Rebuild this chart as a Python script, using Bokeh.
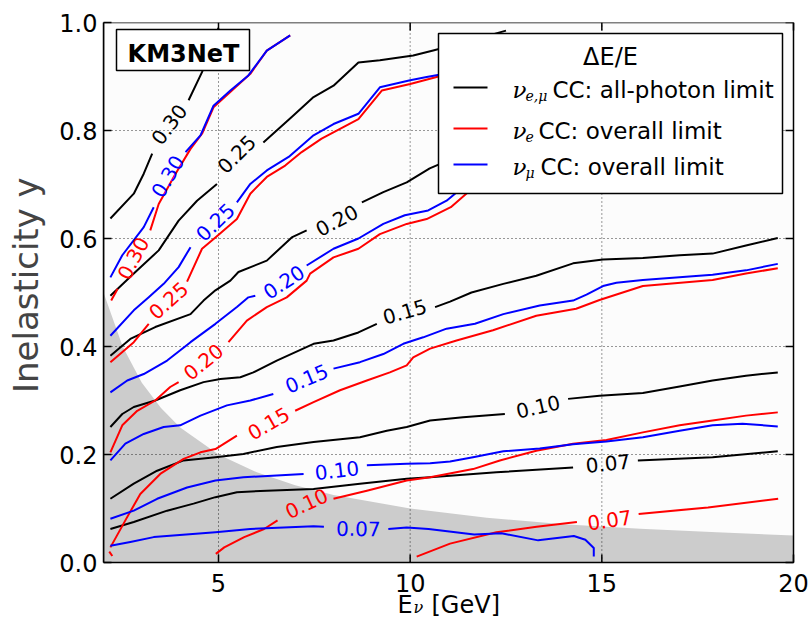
from bokeh.plotting import figure
from bokeh.models import Range1d, FixedTicker, PrintfTickFormatter
from bokeh.embed import file_html
from bokeh.resources import INLINE
from bokeh.core.properties import value
import math

# ---------------- axes ----------------
x_lim = [2.0, 20.0]
y_lim = [0.0, 1.0]
x_ticks = [5, 10, 15, 20]
x_tick_labels = ["5", "10", "15", "20"]
y_ticks = [0.0, 0.2, 0.4, 0.6, 0.8, 1.0]
y_tick_labels = ["0.0", "0.2", "0.4", "0.6", "0.8", "1.0"]
grid_x = [5, 10, 15]
grid_y = [0.2, 0.4, 0.6, 0.8]

# ---------------- shaded (y < y_min(E)) region boundary ----------------
bound_E = [2.0, 2.5, 3.0, 3.5, 4.0, 5.0, 6.0, 7.0, 8.0, 10.0, 12.0, 14.0, 16.0, 18.0, 20.0]
bound_y = [0.50, 0.40, 0.333, 0.286, 0.25, 0.20, 0.167, 0.143, 0.125, 0.10, 0.083, 0.071, 0.0625, 0.056, 0.05]

# ---------------- black contours: nu_{e,mu} CC all-photon limit ----------------
K30a_x = [2.18, 2.79, 3.05, 3.27]
K30a_y = [0.637, 0.683, 0.720, 0.757]
K30b_x = [4.22, 4.57, 4.80, 5.00]
K30b_y = [0.856, 0.908, 0.950, 0.990]
K25a_x = [2.18, 2.79, 3.44, 3.96, 4.44, 4.96]
K25a_y = [0.494, 0.535, 0.578, 0.633, 0.670, 0.701]
K25b_x = [6.17, 6.91, 7.48, 8.00, 8.65, 9.21, 10.08, 10.60, 11.50, 12.50]
K25b_y = [0.778, 0.825, 0.862, 0.883, 0.926, 0.930, 0.939, 0.948, 0.965, 0.985]
K20a_x = [2.18, 2.70, 3.35, 4.27, 4.61, 4.92, 5.31, 5.52, 6.26, 6.91, 7.30]
K20a_y = [0.383, 0.414, 0.436, 0.460, 0.485, 0.504, 0.522, 0.538, 0.559, 0.602, 0.615]
K20b_x = [8.74, 9.30, 9.91, 10.51, 11.50, 13.00, 15.00, 17.00, 19.30]
K20b_y = [0.667, 0.686, 0.704, 0.730, 0.760, 0.800, 0.840, 0.880, 0.920]
K15a_x = [2.18, 2.49, 2.79, 3.35, 4.00, 4.61, 5.05, 5.57, 5.91, 6.52, 7.48, 8.00, 8.65, 9.13]
K15a_y = [0.251, 0.275, 0.288, 0.300, 0.319, 0.334, 0.340, 0.343, 0.352, 0.374, 0.405, 0.411, 0.426, 0.442]
K15b_x = [10.65, 11.04, 11.60, 12.43, 13.29, 14.25, 15.03, 16.07, 17.03, 17.89, 18.76, 19.59]
K15b_y = [0.473, 0.483, 0.500, 0.516, 0.531, 0.554, 0.561, 0.564, 0.569, 0.572, 0.587, 0.601]
K10a_x = [2.18, 2.79, 3.40, 4.09, 4.92, 5.65, 6.52, 7.48, 8.69, 9.39, 9.91, 10.52, 11.38, 12.47]
K10a_y = [0.118, 0.146, 0.170, 0.189, 0.195, 0.201, 0.214, 0.223, 0.232, 0.244, 0.251, 0.263, 0.269, 0.275]
K10b_x = [14.12, 14.94, 16.07, 17.03, 17.89, 18.76, 19.59]
K10b_y = [0.303, 0.309, 0.314, 0.326, 0.337, 0.346, 0.352]
K07a_x = [2.18, 2.79, 3.66, 4.35, 4.92, 5.48, 6.26, 7.48, 8.69, 9.91, 10.52, 12.25, 14.25]
K07a_y = [0.062, 0.075, 0.096, 0.109, 0.121, 0.130, 0.133, 0.136, 0.146, 0.155, 0.158, 0.167, 0.176]
K07b_x = [15.94, 17.89, 19.59]
K07b_y = [0.189, 0.195, 0.206]

# ---------------- blue contours: nu_mu CC overall limit ----------------
B30a_x = [2.18, 2.49, 3.05, 3.31]
B30a_y = [0.528, 0.569, 0.621, 0.658]
B30b_x = [4.14, 4.53, 4.87, 5.31, 5.78, 6.26, 6.87]
B30b_y = [0.760, 0.791, 0.846, 0.874, 0.902, 0.948, 0.976]
B25a_x = [2.18, 2.79, 3.18, 3.57, 3.96, 4.27]
B25a_y = [0.420, 0.467, 0.491, 0.516, 0.547, 0.584]
B25b_x = [5.48, 5.83, 6.26, 6.83, 7.48, 8.00, 8.65, 9.21, 10.00, 10.43, 10.90, 11.50]
B25b_y = [0.667, 0.701, 0.726, 0.751, 0.791, 0.812, 0.831, 0.880, 0.893, 0.899, 0.905, 0.920]
B20a_x = [2.18, 2.62, 3.05, 3.66, 4.27, 4.92, 5.48, 5.78, 5.96]
B20a_y = [0.315, 0.337, 0.349, 0.374, 0.408, 0.442, 0.473, 0.491, 0.494]
B20b_x = [7.30, 8.00, 8.65, 9.30, 9.86, 10.47, 10.95, 11.17, 12.00, 14.00, 16.00, 18.00, 19.30]
B20b_y = [0.550, 0.581, 0.600, 0.627, 0.643, 0.652, 0.670, 0.683, 0.720, 0.780, 0.830, 0.870, 0.900]
B15a_x = [2.18, 2.57, 3.05, 3.57, 4.00, 4.53, 5.22, 5.83, 6.43]
B15a_y = [0.189, 0.220, 0.238, 0.251, 0.254, 0.272, 0.291, 0.300, 0.312]
B15b_x = [8.00, 8.69, 9.30, 9.82, 10.34, 10.95, 11.69, 12.43, 13.38, 14.25, 14.60, 15.03, 15.38, 16.07, 17.89, 18.76, 19.59]
B15b_y = [0.359, 0.371, 0.386, 0.405, 0.417, 0.433, 0.442, 0.460, 0.476, 0.485, 0.496, 0.512, 0.518, 0.523, 0.533, 0.541, 0.553]
B10a_x = [2.18, 2.79, 3.40, 4.18, 4.92, 5.65, 6.52, 7.22]
B10a_y = [0.081, 0.096, 0.118, 0.139, 0.152, 0.158, 0.161, 0.164]
B10b_x = [8.87, 9.91, 10.52, 11.04, 11.64, 12.43, 13.38, 14.25, 15.12, 16.07, 17.03, 17.89, 18.67, 19.59]
B10b_y = [0.180, 0.183, 0.184, 0.187, 0.195, 0.206, 0.211, 0.219, 0.224, 0.232, 0.244, 0.254, 0.257, 0.252]
B07a_x = [2.18, 2.70, 3.31, 4.92, 5.83, 6.70, 7.48, 7.75]
B07a_y = [0.031, 0.038, 0.047, 0.056, 0.062, 0.065, 0.067, 0.066]
B07b_x = [9.43, 9.91, 10.48, 11.67, 12.38, 13.34, 14.27, 14.57, 14.79, 14.79]
B07b_y = [0.062, 0.065, 0.062, 0.052, 0.054, 0.041, 0.049, 0.042, 0.027, 0.011]

# ---------------- red contours: nu_e CC overall limit ----------------
R30a_x = [2.20, 2.37]
R30a_y = [0.485, 0.507]
R30b_x = [3.22, 3.44, 3.88, 4.27, 4.57, 4.87, 5.35, 5.83, 6.26, 6.87]
R30b_y = [0.615, 0.664, 0.720, 0.766, 0.794, 0.843, 0.874, 0.905, 0.948, 0.976]
R25a_x = [2.18, 2.79, 3.18]
R25a_y = [0.371, 0.408, 0.442]
R25b_x = [4.18, 4.57, 4.92, 5.48, 5.83, 6.26, 6.74, 7.17, 7.69, 8.65, 9.26, 10.00, 10.69, 11.50]
R25b_y = [0.520, 0.581, 0.602, 0.636, 0.683, 0.714, 0.735, 0.760, 0.785, 0.821, 0.874, 0.886, 0.899, 0.915]
R20a_x = [2.18, 2.49, 2.88, 3.35, 3.74, 3.96]
R20a_y = [0.204, 0.254, 0.281, 0.300, 0.325, 0.334]
R20b_x = [5.26, 5.74, 6.26, 6.78, 7.30, 7.39, 8.00, 8.65, 9.21, 9.91, 10.43, 11.06, 11.56, 12.50, 14.00, 16.00, 18.00, 19.30]
R20b_y = [0.408, 0.448, 0.473, 0.491, 0.522, 0.535, 0.565, 0.581, 0.608, 0.627, 0.636, 0.658, 0.689, 0.730, 0.780, 0.820, 0.860, 0.890]
R15a_x = [2.18, 2.57, 2.96, 3.48, 4.09, 4.53, 4.92, 5.48]
R15a_y = [0.028, 0.078, 0.127, 0.164, 0.192, 0.204, 0.210, 0.235]
R15b_x = [7.00, 7.48, 8.17, 8.87, 9.47, 9.91, 10.08, 10.52, 11.21, 12.16, 13.29, 14.33, 14.94, 16.07, 17.89, 18.76, 19.59]
R15b_y = [0.281, 0.297, 0.319, 0.337, 0.352, 0.365, 0.380, 0.396, 0.411, 0.430, 0.457, 0.470, 0.486, 0.512, 0.523, 0.535, 0.545]
R10a_x = [4.93, 5.15, 5.67, 6.19, 6.54]
R10a_y = [0.016, 0.028, 0.047, 0.062, 0.078]
R10b_x = [8.00, 8.87, 9.91, 10.52, 11.64, 12.34, 13.29, 14.25, 15.12, 16.07, 17.03, 17.89, 18.76, 19.59]
R10b_y = [0.118, 0.133, 0.152, 0.158, 0.173, 0.189, 0.207, 0.220, 0.227, 0.241, 0.254, 0.263, 0.272, 0.278]
R07a_x = [10.17, 11.04, 12.25, 13.30, 14.35]
R07a_y = [0.011, 0.035, 0.056, 0.066, 0.075]
R07b_x = [15.96, 17.77, 19.60]
R07b_y = [0.090, 0.102, 0.118]
Rdot_x = [2.15, 2.23]
Rdot_y = [0.020, 0.012]

# ---------------- inline contour labels ----------------
level_text = ["0.30", "0.25", "0.20", "0.15", "0.10", "0.07"]
lab_black_x = [3.72, 5.48, 8.09, 9.86, 13.34, 15.16]
lab_black_y = [0.811, 0.756, 0.633, 0.464, 0.288, 0.183]
lab_black_ang = [53, 45, 28, 16, 13, 6]
lab_blue_x = [3.68, 4.92, 6.71, 7.30, 8.09, 8.65]
lab_blue_y = [0.715, 0.630, 0.519, 0.340, 0.170, 0.062]
lab_blue_ang = [60, 44, 33, 23, 7, -1]
lab_red_x = [2.78, 3.70, 4.61, 6.31, 7.30, 15.20]
lab_red_y = [0.563, 0.485, 0.371, 0.257, 0.109, 0.078]
lab_red_ang = [62, 42, 39, 30, 25, 8]

BLACK, RED, BLUE = "#000000", "#ff0000", "#0000ff"
FONT = "DejaVu Sans"

# ---------------- page geometry (pixels) ----------------
W, H = 810, 623
BOX_L, BOX_T, BOX_R, BOX_B = 103, 22, 793, 562       # the plot box on the page
TICK_LEN = 8
PXX = (BOX_R - BOX_L) / (x_lim[1] - x_lim[0])         # pixels per x unit
PXY = (BOX_B - BOX_T) / (y_lim[1] - y_lim[0])         # pixels per y unit


def px_x(px):
    return x_lim[0] + (px - BOX_L) / PXX


def px_y(py):
    return y_lim[0] + (BOX_B - py) / PXY


# the frame runs from the box's left/top edge to the canvas right/bottom edge,
# so that the tick labels and the title under the box can be drawn in it
p = figure(width=W, height=H,
           x_range=Range1d(x_lim[0], px_x(W)), y_range=Range1d(px_y(H), y_lim[1]),
           output_backend="svg", toolbar_location=None,
           min_border_left=BOX_L, min_border_top=BOX_T, min_border_right=0, min_border_bottom=0,
           background_fill_color="white", border_fill_color="white", outline_line_color=None)
p.grid.visible = False
p.xaxis.visible = False

# left axis (Bokeh axis, limited to the box); the title is padded at its start so that
# it sits centred on the box rather than on the taller frame
p.yaxis.ticker = FixedTicker(ticks=y_ticks)
p.yaxis.formatter = PrintfTickFormatter(format="%.1f")
p.yaxis.major_label_overrides = dict(zip(y_ticks, y_tick_labels))
ya = p.yaxis[0]
ya.bounds = (y_lim[0], y_lim[1])
ya.major_tick_in = TICK_LEN
ya.major_tick_out = 0
ya.minor_tick_line_color = None
ya.axis_line_width = 1.5
ya.major_tick_line_width = 1.5
ya.major_label_text_font = FONT
ya.major_label_text_font_size = "24px"
ya.major_label_text_color = "black"
ya.major_label_standoff = 6
ya.axis_label = "\u00a0" * 7 + "Inelasticity y"
ya.axis_label_text_font = FONT
ya.axis_label_text_font_size = "34px"
ya.axis_label_text_font_style = "normal"
ya.axis_label_standoff = 10

# plot-box background and shaded region
p.quad(left=[x_lim[0]], right=[x_lim[1]], bottom=[y_lim[0]], top=[y_lim[1]],
       fill_color="#fcfcfc", line_color=None)
p.varea(x=bound_E, y1=[y_lim[0]] * len(bound_E), y2=bound_y, fill_color="#cccccc")

# dotted grid
p.segment(x0=grid_x, y0=[y_lim[0]] * len(grid_x), x1=grid_x, y1=[y_lim[1]] * len(grid_x),
          line_color="black", line_width=1, line_dash="1 3", line_alpha=0.8)
p.segment(x0=[x_lim[0]] * len(grid_y), y0=grid_y, x1=[x_lim[1]] * len(grid_y), y1=grid_y,
          line_color="black", line_width=1, line_dash="1 3", line_alpha=0.8)

# inward ticks on bottom, top and right edges of the box
dx_tick = TICK_LEN / PXX
dy_tick = TICK_LEN / PXY
p.segment(x0=x_ticks, x1=x_ticks, y0=[y_lim[1]] * len(x_ticks), y1=[y_lim[1] - dy_tick] * len(x_ticks),
          line_color="black", line_width=1.5)
p.segment(x0=x_ticks, x1=x_ticks, y0=[y_lim[0]] * len(x_ticks), y1=[y_lim[0] + dy_tick] * len(x_ticks),
          line_color="black", line_width=1.5)
p.segment(x0=[x_lim[1]] * len(y_ticks), x1=[x_lim[1] - dx_tick] * len(y_ticks), y0=y_ticks, y1=y_ticks,
          line_color="black", line_width=1.5)

black_segs = [(K30a_x, K30a_y), (K30b_x, K30b_y), (K25a_x, K25a_y), (K25b_x, K25b_y),
              (K20a_x, K20a_y), (K20b_x, K20b_y), (K15a_x, K15a_y), (K15b_x, K15b_y),
              (K10a_x, K10a_y), (K10b_x, K10b_y), (K07a_x, K07a_y), (K07b_x, K07b_y)]
red_segs = [(R30a_x, R30a_y), (R30b_x, R30b_y), (R25a_x, R25a_y), (R25b_x, R25b_y),
            (R20a_x, R20a_y), (R20b_x, R20b_y), (R15a_x, R15a_y), (R15b_x, R15b_y),
            (R10a_x, R10a_y), (R10b_x, R10b_y), (R07a_x, R07a_y), (R07b_x, R07b_y),
            (Rdot_x, Rdot_y)]
blue_segs = [(B30a_x, B30a_y), (B30b_x, B30b_y), (B25a_x, B25a_y), (B25b_x, B25b_y),
             (B20a_x, B20a_y), (B20b_x, B20b_y), (B15a_x, B15a_y), (B15b_x, B15b_y),
             (B10a_x, B10a_y), (B10b_x, B10b_y), (B07a_x, B07a_y), (B07b_x, B07b_y)]

for segs, col in ((black_segs, BLACK), (red_segs, RED), (blue_segs, BLUE)):
    p.multi_line(xs=[s[0] for s in segs], ys=[s[1] for s in segs],
                 line_color=col, line_width=2, line_join="round")

for lx, ly, la, col in ((lab_black_x, lab_black_y, lab_black_ang, BLACK),
                        (lab_red_x, lab_red_y, lab_red_ang, RED),
                        (lab_blue_x, lab_blue_y, lab_blue_ang, BLUE)):
    p.text(x=lx, y=ly, text=level_text, angle=[math.radians(a) for a in la],
           text_color=col, text_font=value(FONT), text_font_size=value("20px"),
           text_align="center", text_baseline="middle")

# KM3NeT tag box
p.quad(left=[px_x(116)], right=[px_x(249)], bottom=[px_y(70)], top=[px_y(29)],
       fill_color="white", line_color="black", line_width=1.5)
p.text(x=[px_x(183)], y=[px_y(53)], text=["KM3NeT"], text_font=value(FONT),
       text_font_size=value("24px"), text_font_style="bold", text_align="center",
       text_baseline="alphabetic", text_color="black")

# legend
leg_names = ["CC: all-photon limit", "CC: overall limit", "CC: overall limit"]
leg_subs = ["e,\u03bc", "e", "\u03bc"]
leg_cols = [BLACK, RED, BLUE]
leg_line_px = [87, 128, 164]
leg_base_px = [89, 130, 166]
leg_txt_left_px = [552, 538, 540]
p.quad(left=[px_x(438)], right=[px_x(782)], bottom=[px_y(193)], top=[px_y(33)],
       fill_color="white", line_color="black", line_width=1.5)
p.text(x=[px_x(610)], y=[px_y(56)], text=["\u0394E/E"], text_font=value(FONT),
       text_font_size=value("24px"), text_align="center", text_baseline="alphabetic")
p.segment(x0=[px_x(453)] * 3, x1=[px_x(487)] * 3, y0=[px_y(v) for v in leg_line_px],
          y1=[px_y(v) for v in leg_line_px], line_color=leg_cols, line_width=2)
p.text(x=[px_x(512)] * 3, y=[px_y(b) for b in leg_base_px], text=["\u03bd"] * 3,
       text_font=value("DejaVu Serif"), text_font_style="italic", text_font_size=value("23px"),
       text_align="left", text_baseline="alphabetic")
p.text(x=[px_x(525)] * 3, y=[px_y(b + 6) for b in leg_base_px], text=leg_subs,
       text_font=value("DejaVu Serif"), text_font_style="italic",
       text_font_size=value("14px"), text_align="left", text_baseline="alphabetic")
p.text(x=[px_x(v) for v in leg_txt_left_px], y=[px_y(b) for b in leg_base_px], text=leg_names,
       text_font=value(FONT), text_font_size=value("23px"), text_align="left",
       text_baseline="alphabetic")

# box outline (drawn last, on top)
p.quad(left=[x_lim[0]], right=[x_lim[1]], bottom=[y_lim[0]], top=[y_lim[1]],
       fill_color=None, line_color="black", line_width=1.5)

# x tick labels and x-axis title E_nu [GeV] under the box
p.text(x=x_ticks, y=[px_y(BOX_B + 20)] * len(x_ticks), text=x_tick_labels,
       text_font=value(FONT), text_font_size=value("24px"), text_align="center",
       text_baseline="alphabetic", text_color="black")
xt_text = ["E", "\u03bd", "[GeV]"]
xt_px = [397, 413, 431]
xt_py = [604, 607, 604]
xt_size = ["24px", "16px", "24px"]
xt_font = [FONT, "DejaVu Serif", FONT]
xt_style = ["normal", "italic", "normal"]
for t, xx, yy, sz, fn, st in zip(xt_text, xt_px, xt_py, xt_size, xt_font, xt_style):
    p.text(x=[px_x(xx)], y=[px_y(yy)], text=[t], text_font=value(fn), text_font_size=value(sz),
           text_font_style=st, text_align="left", text_baseline="alphabetic", text_color="black")

open("out.html", "w").write(file_html(p, INLINE))
